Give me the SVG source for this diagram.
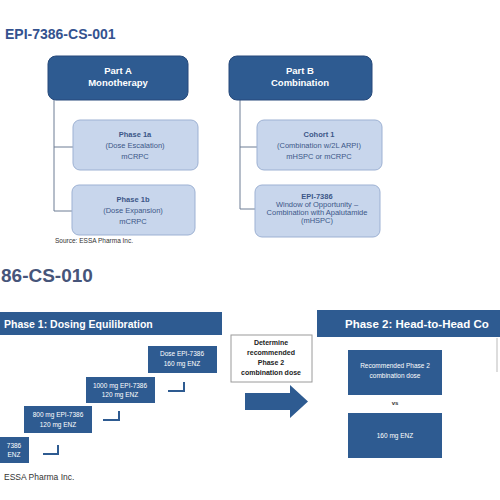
<svg xmlns="http://www.w3.org/2000/svg" width="500" height="500" viewBox="0 0 500 500">
<defs>
<style>
text{font-family:"Liberation Sans",Arial,sans-serif}
.title{font-weight:bold;fill:#34528f}
.dark{fill:#2e5b91}
.part{fill:#2e5b91;stroke:#26497a;stroke-width:1}
.lite{fill:#c8d6ec;stroke:#9db1d3;stroke-width:1}
.wt{fill:#fff;text-anchor:middle}
.bt{fill:#3c5688;text-anchor:middle;font-size:7.5px}
.conn{stroke:#6d7c94;stroke-width:1;fill:none}
.step{stroke:#2e5b91;stroke-width:2;fill:none}
</style>
</defs>
<rect width="500" height="500" fill="#fff"/>

<text class="title" x="5" y="39" font-size="14">EPI-7386-CS-001</text>

<g id="connectors">
<path class="conn" d="M54 100 V211 M54 147 H73 M54 211 H72"/>
<path class="conn" d="M240 100 V209 M240 147 H257 M240 209 H255"/>
<path class="step" d="M58 445 V454 H43"/>
<path class="step" d="M119 411 V420 H103"/>
<path class="step" d="M184 382 V391 H168"/>
</g>

<g id="partA">
<rect class="part" x="48" y="56" width="140" height="44" rx="8"/>
<text class="wt" x="118" y="74" font-size="9.5" font-weight="bold">Part A</text>
<text class="wt" x="118" y="86" font-size="9.5" font-weight="bold">Monotherapy</text>
</g>
<g id="partB">
<rect class="part" x="229" y="56" width="143" height="44" rx="8"/>
<text class="wt" x="300" y="74" font-size="9.5" font-weight="bold">Part B</text>
<text class="wt" x="300" y="86" font-size="9.5" font-weight="bold">Combination</text>
</g>

<g id="phase1a">
<rect class="lite" x="73" y="120" width="125" height="50" rx="7"/>
<text class="bt" x="135" y="137" font-weight="bold">Phase 1a</text>
<text class="bt" x="135" y="148">(Dose Escalation)</text>
<text class="bt" x="135" y="159">mCRPC</text>
</g>
<g id="phase1b">
<rect class="lite" x="72" y="185" width="123" height="50" rx="7"/>
<text class="bt" x="133" y="202" font-weight="bold">Phase 1b</text>
<text class="bt" x="133" y="213">(Dose Expansion)</text>
<text class="bt" x="133" y="224">mCRPC</text>
</g>
<text x="55" y="243" font-size="6.5" fill="#333">Source: ESSA Pharma Inc.</text>

<g id="cohort1">
<rect class="lite" x="257" y="120" width="125" height="50" rx="7"/>
<text class="bt" x="319" y="137" font-weight="bold">Cohort 1</text>
<text class="bt" x="319" y="148">(Combination w/2L ARPI)</text>
<text class="bt" x="319" y="159">mHSPC or mCRPC</text>
</g>
<g id="window">
<rect class="lite" x="255" y="185" width="125" height="52" rx="7"/>
<text class="bt" x="317" y="199" font-size="7" font-weight="bold">EPI-7386</text>
<text class="bt" x="317" y="207" font-size="7">Window of Opportunity –</text>
<text class="bt" x="317" y="215" font-size="7">Combination with Apalutamide</text>
<text class="bt" x="317" y="223" font-size="7">(mHSPC)</text>
</g>

<text x="1" y="282" font-size="19" font-weight="bold" fill="#46557a">86-CS-010</text>

<g id="phase1bar">
<rect class="dark" x="0" y="312" width="222" height="23"/>
<text x="4" y="327.5" font-size="10.5" font-weight="bold" fill="#fff">Phase 1: Dosing Equilibration</text>
</g>
<g id="phase2bar">
<rect class="dark" x="317" y="310" width="190" height="27"/>
<text x="345" y="328" font-size="11.5" font-weight="bold" fill="#fff">Phase 2: Head-to-Head Co</text>
</g>

<g id="dose1">
<rect class="dark" x="-45" y="437" width="74" height="26"/>
<text class="wt" x="14" y="448" font-size="6.5">7386</text>
<text class="wt" x="14" y="457" font-size="6.5">ENZ</text>
</g>
<g id="dose2">
<rect class="dark" x="24" y="406" width="68" height="27"/>
<text class="wt" x="58" y="417" font-size="6.5">800 mg EPI-7386</text>
<text class="wt" x="58" y="427" font-size="6.5">120 mg ENZ</text>
</g>
<g id="dose3">
<rect class="dark" x="86" y="377" width="69" height="26"/>
<text class="wt" x="120" y="388" font-size="6.5">1000 mg EPI-7386</text>
<text class="wt" x="120" y="397" font-size="6.5">120 mg ENZ</text>
</g>
<g id="dose4">
<rect class="dark" x="148" y="346" width="69" height="27"/>
<text class="wt" x="182" y="356" font-size="6.5">Dose EPI-7386</text>
<text class="wt" x="182" y="366" font-size="6.5">160 mg ENZ</text>
</g>

<g id="determine">
<rect x="231" y="335" width="81" height="47" fill="#fff" stroke="#9a9a9a" stroke-width="1"/>
<text x="271" y="345" font-size="7" font-weight="bold" fill="#222" text-anchor="middle">Determine</text>
<text x="271" y="355" font-size="7" font-weight="bold" fill="#222" text-anchor="middle">recommended</text>
<text x="271" y="365" font-size="7" font-weight="bold" fill="#222" text-anchor="middle">Phase 2</text>
<text x="271" y="375" font-size="7" font-weight="bold" fill="#222" text-anchor="middle">combination dose</text>
</g>
<g id="bigArrow">
<path class="dark" d="M245 393 H290 V385 L308 401.5 L290 418 V410 H245 Z"/>
</g>

<g id="rp2d">
<rect class="dark" x="348" y="350" width="94" height="45"/>
<text class="wt" x="395" y="368" font-size="6.5">Recommended Phase 2</text>
<text class="wt" x="395" y="378" font-size="6.5">combination dose</text>
</g>
<text x="395" y="405" font-size="6" font-weight="bold" fill="#333" text-anchor="middle">vs</text>
<g id="enz">
<rect class="dark" x="348" y="413" width="94" height="45"/>
<text class="wt" x="395" y="438" font-size="6.5">160 mg ENZ</text>
</g>
<line x1="497" y1="338" x2="497" y2="372" stroke="#bbb" stroke-width="1"/>

<text x="4" y="480" font-size="8.5" fill="#333">ESSA Pharma Inc.</text>
</svg>
